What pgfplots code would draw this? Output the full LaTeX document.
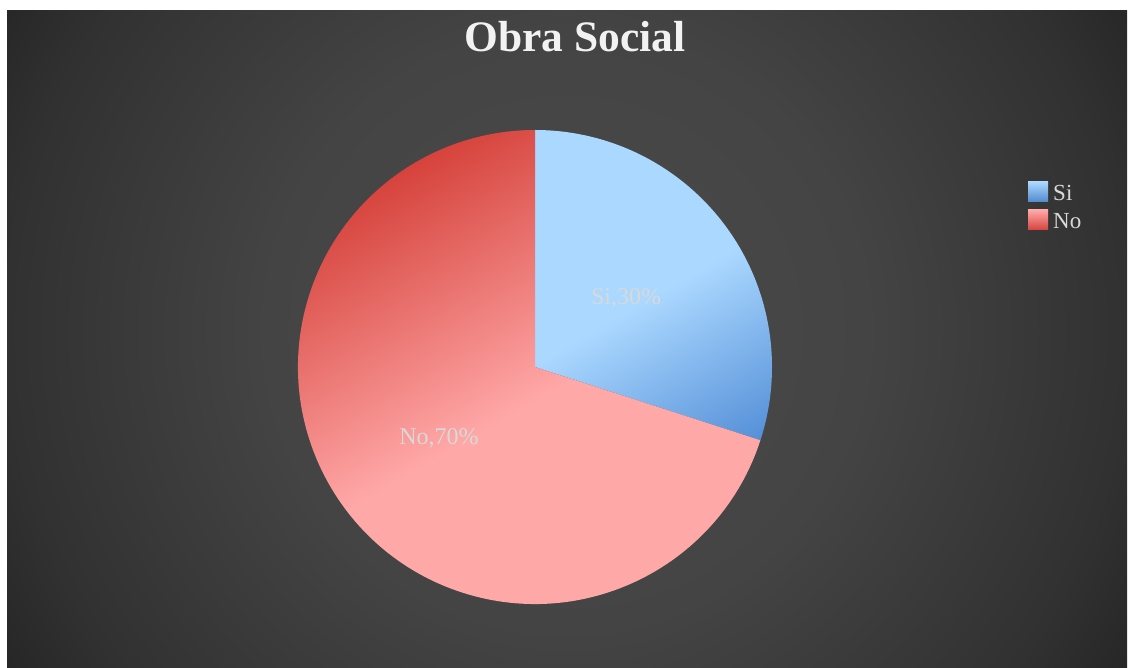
\documentclass[border=0pt]{standalone}
\usepackage{pgfplots}
\pgfplotsset{compat=1.18}
\usepackage{pgfplotstable}
\usepackage{fontspec}
\setmainfont{Liberation Serif}

\definecolor{siL}{HTML}{ABD8FF}
\definecolor{siD}{HTML}{5590D8}
\definecolor{noD}{HTML}{D6433C}
\definecolor{noL}{HTML}{FFA8A8}
\definecolor{bg0}{HTML}{4B4B4B}
\definecolor{bg1}{HTML}{444444}
\definecolor{bg2}{HTML}{313131}
\definecolor{bg3}{HTML}{272727}
\definecolor{lbl}{HTML}{D9D9D9}
\definecolor{titlec}{HTML}{F2F2F2}

\pgfdeclarehorizontalshading{sishade}{100bp}{color(0bp)=(siL); color(49.8bp)=(siL); color(64.6bp)=(siD); color(100bp)=(siD)}
\pgfdeclarehorizontalshading{noshade}{100bp}{color(0bp)=(noD); color(30.2bp)=(noD); color(52.5bp)=(noL); color(100bp)=(noL)}
\pgfdeclareradialshading{bgshade}{\pgfpoint{0bp}{0bp}}{color(0bp)=(bg0); color(10.7bp)=(bg1); color(20bp)=(bg2); color(23.2bp)=(bg3); color(50bp)=(bg3)}

\pgfplotstableread{
label value
Si 30
No 70
}\piedata

\begin{document}
\begin{tikzpicture}
\pgfplotstablegetelem{0}{value}\of\piedata
\let\vSi\pgfplotsretval
\pgfplotstablegetelem{1}{value}\of\piedata
\let\vNo\pgfplotsretval
\pgfmathsetmacro{\aSi}{90-3.6*\vSi}
\pgfmathsetmacro{\aNo}{\aSi-3.6*\vNo}
\begin{axis}[width=1130pt, height=667pt, scale only axis,
  xmin=0, xmax=1130, ymin=0, ymax=667, hide axis, clip=false]
\fill[white] (axis cs:0,0) rectangle (axis cs:1130,667);
\begin{scope}
\clip (axis cs:7,0) rectangle (axis cs:1127,656);
\shade[shading=bgshade] (axis cs:567,337) circle[radius=700pt];
\end{scope}
% Si slice
\begin{scope}
\clip (axis cs:535,300) -- ++(90:237pt) arc[start angle=90, end angle=\aSi, radius=237pt] -- cycle;
\shade[shading=sishade, shading angle=-60] (axis cs:235,0) rectangle (axis cs:835,600);
\end{scope}
% No slice
\begin{scope}
\clip (axis cs:535,300) -- ++(\aSi:237pt) arc[start angle=\aSi, end angle=\aNo, radius=237pt] -- cycle;
\shade[shading=noshade, shading angle=-60] (axis cs:235,0) rectangle (axis cs:835,600);
\end{scope}
% data labels
\node[text=lbl, font=\fontsize{24}{28}\selectfont] at (axis cs:626,369) {Si,30\%};
\node[text=lbl, font=\fontsize{24}{28}\selectfont] at (axis cs:439,229) {No,70\%};
% title
\node[anchor=base, text=titlec, font=\bfseries\fontsize{43.5}{50}\selectfont] at (axis cs:575,615) {Obra Social};
% legend
\shade[top color=siL, bottom color=siD!95!black] (axis cs:1028,465) rectangle (axis cs:1048,485);
\shade[top color=noL, bottom color=noD] (axis cs:1028,437) rectangle (axis cs:1048,457);
\node[anchor=base west, inner sep=0pt, text=lbl, font=\fontsize{23}{26}\selectfont] at (axis cs:1053,466.3) {Si};
\node[anchor=base west, inner sep=0pt, text=lbl, font=\fontsize{23}{26}\selectfont] at (axis cs:1053,438.7) {No};
\end{axis}
\end{tikzpicture}
\end{document}
